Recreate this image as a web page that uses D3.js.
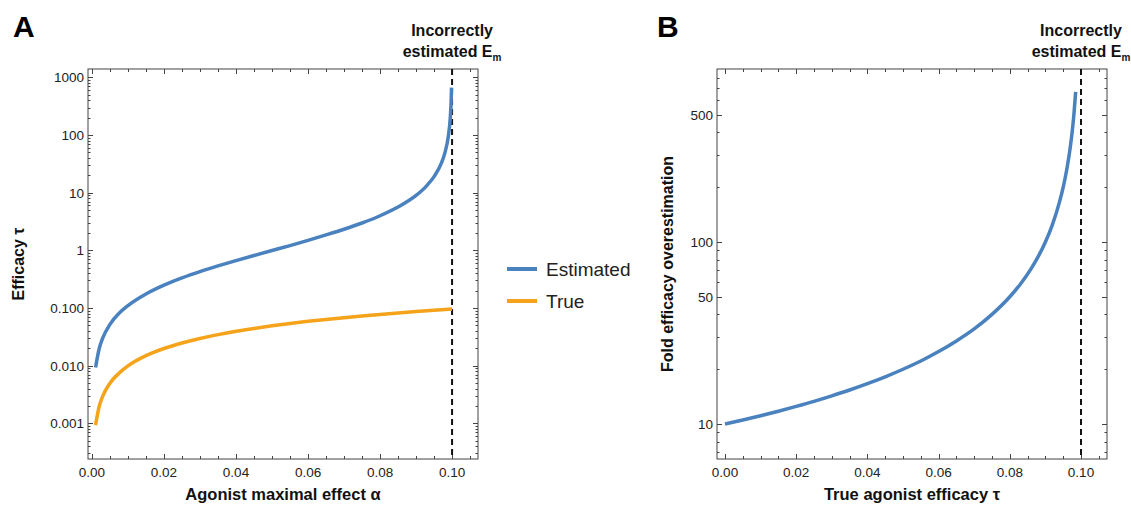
<!DOCTYPE html>
<html><head><meta charset="utf-8">
<script src="https://cdn.jsdelivr.net/npm/d3@7"></script>
<style>body{margin:0;background:#fff}svg{display:block;font-family:"Liberation Sans",Arial,sans-serif}</style>
</head><body><svg id="c" width="1131" height="506"></svg>
<script>
// ---- Data ----
const alphaA = [0.001,0.002,0.003,0.005,0.0075,0.01,0.015,0.02,0.025,0.03,0.035,0.04,0.045,0.05,0.055,0.06,0.065,0.07,0.075,0.08,0.085,0.09,0.093,0.095,0.097,0.098,0.099,0.0995,0.0997,0.09985];
const estimatedA = [0.0093,0.0196,0.0302,0.052,0.0805,0.11,0.175,0.249,0.332,0.427,0.536,0.664,0.815,0.995,1.21,1.49,1.85,2.32,2.98,3.98,5.64,8.95,13.3,19.0,32.2,49,99,199,332,666];
const alphaTrue = [0.001,0.002,0.003,0.005,0.0075,0.01,0.015,0.02,0.025,0.03,0.035,0.04,0.045,0.05,0.055,0.06,0.065,0.07,0.075,0.08,0.085,0.09,0.095,0.1];
const trueA = [0.00093,0.00195,0.00296,0.00496,0.0074,0.0099,0.0149,0.0198,0.0247,0.0296,0.0345,0.0394,0.0442,0.049,0.0538,0.0586,0.0633,0.068,0.0727,0.0774,0.082,0.0866,0.0912,0.096];
const tauB = [0,0.005,0.01,0.015,0.02,0.025,0.03,0.035,0.04,0.045,0.05,0.055,0.06,0.065,0.07,0.075,0.08,0.083,0.086,0.088,0.09,0.092,0.094,0.095,0.096,0.097,0.0975,0.098,0.0985];
const foldB = [10,10.53,11.11,11.76,12.5,13.33,14.29,15.38,16.67,18.18,20,22.2,25,28.6,33.3,40,50,58.8,71.4,83.3,100,125,167,200,250,333,400,500,667];
const xTicks = [0,0.02,0.04,0.06,0.08,0.10];
const xTickLabels = ["0.00","0.02","0.04","0.06","0.08","0.10"];
const yTicksA = [0.001,0.01,0.1,1,10,100,1000];
const yTickLabelsA = ["0.001","0.010","0.100","1","10","100","1000"];
const yTicksB = [10,50,100,500];
const yTickLabelsB = ["10","50","100","500"];
const seriesNames = ["Estimated","True"];
const colors = ["#4a81bf","#f5a31b"];
const emLine = 0.1;

const svg = d3.select("#c");

function minorLog(lo, hi){
  const out=[];
  for(let e=Math.floor(Math.log10(lo));e<=Math.ceil(Math.log10(hi));e++)
    for(let k=1;k<10;k++){const v=k*Math.pow(10,e); if(v>=lo&&v<=hi) out.push(v);}
  return out;
}

function panel(o){
  const g = svg.append("g");
  const x = d3.scaleLinear().domain(o.xd).range([o.l,o.r]);
  const y = d3.scaleLog().domain(o.yd).range([o.b,o.t]);
  const fc = "#444";
  g.append("rect").attr("x",o.l).attr("y",o.t).attr("width",o.r-o.l).attr("height",o.b-o.t)
    .attr("fill","none").attr("stroke",fc).attr("stroke-width",1);
  const xm = d3.range(0,0.1051,0.005);
  xm.forEach(v=>{
    const maj = xTicks.some(t=>Math.abs(t-v)<1e-9);
    const len = maj?5:3;
    const px = Math.round(x(v))+0.5;
    g.append("line").attr("x1",px).attr("x2",px).attr("y1",o.b).attr("y2",o.b-len).attr("stroke",fc);
    g.append("line").attr("x1",px).attr("x2",px).attr("y1",o.t).attr("y2",o.t+len).attr("stroke",fc);
  });
  xTicks.forEach((v,i)=>{
    g.append("text").attr("x",x(v)).attr("y",o.b+18).attr("text-anchor","middle")
      .attr("font-size",13.5).attr("fill","#222").text(xTickLabels[i]);
  });
  const ym = minorLog(o.yd[0],o.yd[1]);
  ym.forEach(v=>{
    const maj = o.yt.some(t=>Math.abs(t-v)/t<1e-6);
    const len = maj?5:2.5;
    const py = Math.round(y(v))+0.5;
    g.append("line").attr("x1",o.l).attr("x2",o.l+len).attr("y1",py).attr("y2",py).attr("stroke",fc);
    g.append("line").attr("x1",o.r).attr("x2",o.r-len).attr("y1",py).attr("y2",py).attr("stroke",fc);
  });
  o.yt.forEach((v,i)=>{
    g.append("text").attr("x",o.l-4).attr("y",y(v)+5).attr("text-anchor","end")
      .attr("font-size",13.5).attr("fill","#222").text(o.ytl[i]);
  });
  g.append("line").attr("x1",x(emLine)).attr("x2",x(emLine)).attr("y1",o.t).attr("y2",o.b)
    .attr("stroke","#111").attr("stroke-width",2).attr("stroke-dasharray","6,4");
  o.series.forEach(s=>{
    const line = d3.line().x(d=>x(d[0])).y(d=>y(d[1])).curve(d3.curveMonotoneX);
    g.append("path").datum(s.xs.map((v,i)=>[v,s.ys[i]])).attr("d",line)
      .attr("fill","none").attr("stroke",s.color).attr("stroke-width",3.5);
  });
  g.append("text").attr("x",(o.l+o.r)/2).attr("y",500).attr("text-anchor","middle")
    .attr("font-size",16.5).attr("font-weight","bold").attr("fill","#111").text(o.xl);
  g.append("text").attr("transform",`translate(${o.yx},${(o.t+o.b)/2}) rotate(-90)`)
    .attr("text-anchor","middle").attr("font-size",16).attr("font-weight","bold").attr("fill","#111").text(o.yl);
  const hx = x(emLine);
  g.append("text").attr("x",hx).attr("y",36).attr("text-anchor","middle").attr("font-size",16)
    .attr("font-weight","bold").attr("fill","#111").text("Incorrectly");
  const t2 = g.append("text").attr("x",hx).attr("y",57).attr("text-anchor","middle").attr("font-size",16)
    .attr("font-weight","bold").attr("fill","#111");
  t2.append("tspan").text("estimated E");
  t2.append("tspan").attr("font-size",10).attr("dy",4).text("m");
  g.append("text").attr("x",o.px).attr("y",37).attr("font-size",30).attr("font-weight","bold").attr("fill","#000").text(o.pl);
}

panel({l:88,r:478,t:69,b:459,xd:[-0.0011,0.1072],yd:[Math.pow(10,-3.62),Math.pow(10,3.146)],
  yt:yTicksA,ytl:yTickLabelsA,xl:"Agonist maximal effect α",yl:"Efficacy τ",yx:24,pl:"A",px:13,
  series:[{xs:alphaA,ys:estimatedA,color:colors[0]},{xs:alphaTrue,ys:trueA,color:colors[1]}]});

panel({l:717,r:1107,t:69,b:459,xd:[-0.00225,0.1073],yd:[Math.pow(10,0.808),Math.pow(10,2.95)],
  yt:yTicksB,ytl:yTickLabelsB,xl:"True agonist efficacy τ",yl:"Fold efficacy overestimation",yx:673,pl:"B",px:657,
  series:[{xs:tauB,ys:foldB,color:colors[0]}]});

const lg = svg.append("g");
seriesNames.forEach((n,i)=>{
  const yy = 269 + i*32;
  lg.append("line").attr("x1",507).attr("x2",537).attr("y1",yy).attr("y2",yy).attr("stroke",colors[i]).attr("stroke-width",4);
  lg.append("text").attr("x",546).attr("y",yy+6.5).attr("font-size",19).attr("fill","#222").text(n);
});
</script></body></html>
